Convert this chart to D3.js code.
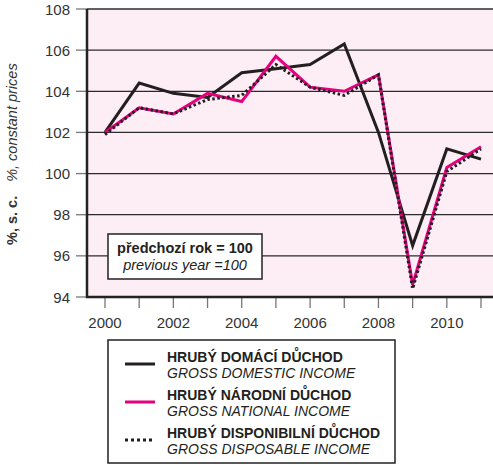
<!DOCTYPE html>
<html><head><meta charset="utf-8">
<script src="https://cdn.jsdelivr.net/npm/d3@7"></script>
<style>body{margin:0;background:#fff}svg{display:block;font-family:"Liberation Sans",Arial,sans-serif}</style>
</head><body>
<svg id="c" width="493" height="465"></svg>
<script>
const years = [2000,2001,2002,2003,2004,2005,2006,2007,2008,2009,2010,2011];
const grossDomestic = [102.0,104.4,103.9,103.7,104.9,105.1,105.3,106.3,102.0,96.5,101.2,100.7];
const grossNational = [102.0,103.2,102.9,103.9,103.5,105.7,104.2,104.0,104.8,94.6,100.3,101.3];
const grossDisposable = [101.9,103.2,102.9,103.6,103.8,105.3,104.2,103.8,104.8,94.4,100.1,101.2];
const yTicks = [94,96,98,100,102,104,106,108];
const xLabels = [2000,2002,2004,2006,2008,2010];
const legendItems = [
  {cz:"HRUBÝ DOMÁCÍ DŮCHOD", en:"GROSS DOMESTIC INCOME", type:"solid"},
  {cz:"HRUBÝ NÁRODNÍ DŮCHOD", en:"GROSS NATIONAL INCOME", type:"pink"},
  {cz:"HRUBÝ DISPONIBILNÍ DŮCHOD", en:"GROSS DISPOSABLE INCOME", type:"dot"}
];

const svg = d3.select("#c");
const L = 87, R = 493, T = 9, B = 297;
const x = d3.scaleLinear().domain([2000,2011]).range([105,481]);
const y = d3.scaleLinear().domain([94,108]).range([B,T]);
const PINK = "#e5007d";

svg.append("rect").attr("x",L).attr("y",T).attr("width",R-L).attr("height",B-T).attr("fill","#fdedf4");

// grid
svg.append("g").selectAll("line").data(yTicks.filter(d=>d>94)).join("line")
  .attr("x1",L).attr("x2",R).attr("y1",d=>y(d)).attr("y2",d=>y(d))
  .attr("stroke","#2b2b2b").attr("stroke-width",1.3);

// y ticks
const ya = svg.append("g");
ya.selectAll("line").data(yTicks).join("line")
  .attr("x1",76).attr("x2",L).attr("y1",d=>y(d)).attr("y2",d=>y(d))
  .attr("stroke","#777").attr("stroke-width",1.3);
ya.selectAll("text").data(yTicks).join("text")
  .attr("x",70).attr("y",d=>y(d)+5.5).attr("text-anchor","end")
  .attr("font-size",15).attr("fill","#333").text(d=>d);

// x ticks
const xa = svg.append("g");
xa.selectAll("line").data(years).join("line")
  .attr("x1",d=>x(d)).attr("x2",d=>x(d)).attr("y1",B).attr("y2",308)
  .attr("stroke","#777").attr("stroke-width",1.3);
xa.selectAll("text").data(xLabels).join("text")
  .attr("x",d=>x(d)).attr("y",328).attr("text-anchor","middle")
  .attr("font-size",15).attr("fill","#333").text(d=>d);

// axes frame
svg.append("line").attr("x1",L).attr("x2",L).attr("y1",T).attr("y2",B+1).attr("stroke","#222").attr("stroke-width",2.5);
svg.append("line").attr("x1",L-1).attr("x2",R).attr("y1",B).attr("y2",B).attr("stroke","#222").attr("stroke-width",2.5);

// y axis title
const yt = svg.append("text").attr("transform","translate(17,245) rotate(-90)")
  .attr("font-size",14.5).attr("fill","#333");
yt.append("tspan").attr("font-weight","bold").text("%, s. c.");
yt.append("tspan").attr("dx",14).attr("font-style","italic").text("%, constant prices");

const line = d3.line().x((d,i)=>x(years[i])).y(d=>y(d));
svg.append("path").datum(grossDomestic).attr("d",line).attr("fill","none").attr("stroke","#231f20").attr("stroke-width",3).attr("stroke-linejoin","miter");
svg.append("path").datum(grossNational).attr("d",line).attr("fill","none").attr("stroke",PINK).attr("stroke-width",3).attr("stroke-linejoin","miter");
svg.append("path").datum(grossDisposable).attr("d",line).attr("fill","none").attr("stroke","#231f20").attr("stroke-width",3).attr("stroke-dasharray","2.5,2.5");

// annotation box
svg.append("rect").attr("x",108).attr("y",234).attr("width",154).attr("height",45).attr("fill","#fff").attr("stroke","#222").attr("stroke-width",1.5);
svg.append("text").attr("x",185).attr("y",253).attr("text-anchor","middle").attr("font-size",14.5).attr("font-weight","bold").attr("fill","#222").text("předchozí rok = 100");
svg.append("text").attr("x",185).attr("y",270).attr("text-anchor","middle").attr("font-size",14.5).attr("font-style","italic").attr("fill","#222").text("previous year =100");

// legend
svg.append("rect").attr("x",108).attr("y",340).attr("width",287).attr("height",123).attr("fill","#fff").attr("stroke","#222").attr("stroke-width",1.5);
const lg = svg.append("g").selectAll("g").data(legendItems).join("g")
  .attr("transform",(d,i)=>`translate(0,${364+i*38})`);
lg.append("line").attr("x1",125).attr("x2",155).attr("y1",0).attr("y2",0)
  .attr("stroke",d=>d.type==="pink"?PINK:"#231f20").attr("stroke-width",3)
  .attr("stroke-dasharray",d=>d.type==="dot"?"3,3":null);
lg.append("text").attr("x",167).attr("y",-2).attr("font-size",14).attr("font-weight","bold").attr("fill","#231f20").text(d=>d.cz);
lg.append("text").attr("x",167).attr("y",14).attr("font-size",14).attr("font-style","italic").attr("fill","#231f20").text(d=>d.en);
</script>
</body></html>
